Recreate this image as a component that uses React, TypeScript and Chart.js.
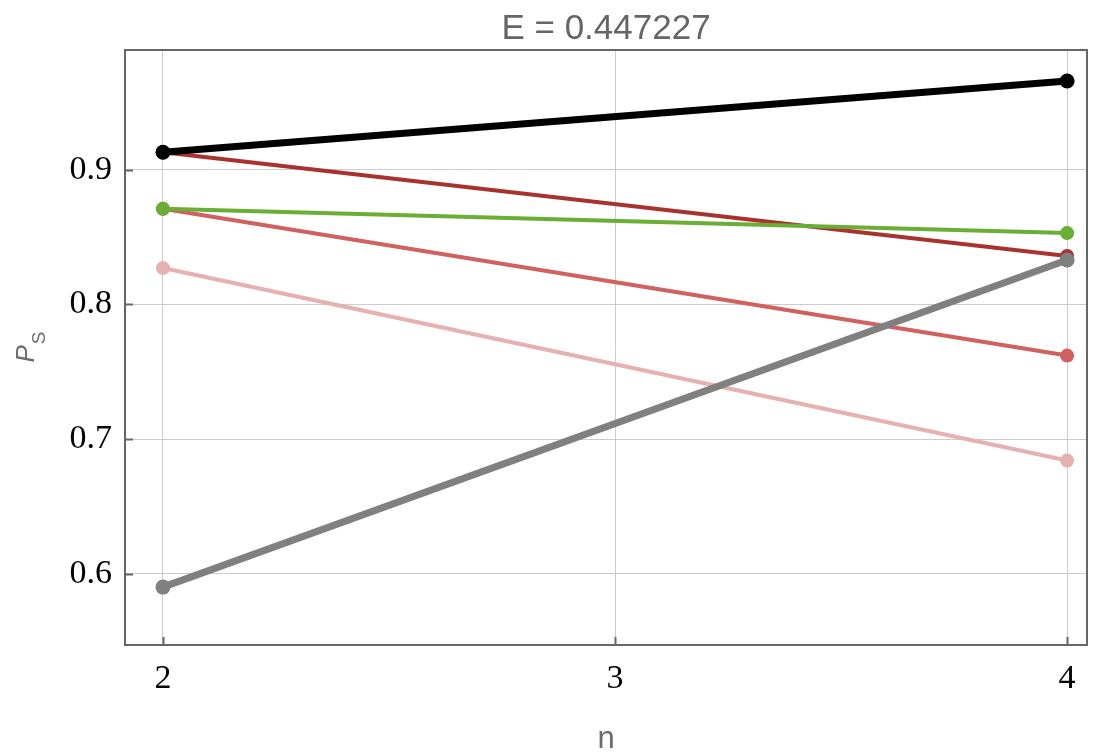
import React, { useEffect, useRef } from "react";
import { Chart, registerables } from "chart.js";

Chart.register(...registerables);

// ---- data ----
const nValues = [2, 4];
const blackSeries = [0.913, 0.966];
const darkRedSeries = [0.913, 0.836];
const greenSeries = [0.871, 0.853];
const midRedSeries = [0.871, 0.762];
const pinkSeries = [0.827, 0.684];
const graySeries = [0.59, 0.833];

const xTicks = [2, 3, 4];
const yTicks = [0.6, 0.7, 0.8, 0.9];
const titleText = "E = 0.447227";
const xLabel = "n";
const yLabelMain = "P";
const yLabelSub = "S";

const toPoints = (vals: number[]) => vals.map((v, i) => ({ x: nValues[i], y: v }));

const framePlugin = {
  id: "framePlugin",
  afterDraw(chart: any) {
    const { ctx, chartArea } = chart;
    const { left, top, right, bottom } = chartArea;
    const xs = chart.scales.x;
    const ys = chart.scales.y;
    ctx.save();
    ctx.strokeStyle = "#666666";
    ctx.lineWidth = 2;
    ctx.strokeRect(left, top, right - left, bottom - top);
    ctx.beginPath();
    yTicks.forEach((v) => {
      const p = Math.round(ys.getPixelForValue(v)) + 0.5;
      ctx.moveTo(left, p);
      ctx.lineTo(left + 8, p);
    });
    xTicks.forEach((v) => {
      const p = Math.round(xs.getPixelForValue(v)) + 0.5;
      ctx.moveTo(p, bottom);
      ctx.lineTo(p, bottom - 8);
    });
    ctx.stroke();

    const cx = (left + right) / 2;
    ctx.fillStyle = "#666666";
    ctx.textAlign = "center";
    ctx.textBaseline = "alphabetic";
    ctx.font = '35px "Liberation Sans", Arial, sans-serif';
    ctx.fillText(titleText, cx, 39);

    ctx.fillStyle = "#6c6c6c";
    ctx.font = '31px "Liberation Sans", Arial, sans-serif';
    ctx.fillText(xLabel, cx, 748);

    // y-axis label P_S
    const cy = (top + bottom) / 2;
    ctx.translate(34, cy);
    ctx.rotate(-Math.PI / 2);
    ctx.textAlign = "left";
    const mainFont = 'italic 26px "Liberation Sans", Arial, sans-serif';
    const subFont = '19px "Liberation Sans", Arial, sans-serif';
    ctx.font = mainFont;
    const wP = ctx.measureText(yLabelMain).width;
    ctx.font = subFont;
    const wS = ctx.measureText(yLabelSub).width;
    const start = -(wP + wS) / 2;
    ctx.font = mainFont;
    ctx.fillText(yLabelMain, start, 0);
    ctx.font = subFont;
    ctx.fillText(yLabelSub, start + wP + 1, 11);
    ctx.restore();
  },
};

const mk = (label: string, vals: number[], color: string, width: number, radius: number) => ({
  label,
  data: toPoints(vals),
  borderColor: color,
  backgroundColor: color,
  borderWidth: width,
  pointRadius: radius,
  pointHoverRadius: radius,
  pointBorderWidth: 0,
  pointBackgroundColor: color,
  tension: 0,
});

export default function App() {
  const ref = useRef<HTMLCanvasElement>(null);
  useEffect(() => {
    if (!ref.current) return;
    const chart = new Chart(ref.current, {
      type: "line",
      data: {
        datasets: [
          mk("black", blackSeries, "#000000", 7, 7.5),
          mk("gray", graySeries, "#808080", 7, 7.5),
          mk("green", greenSeries, "#6aae35", 4, 7),
          mk("pink", pinkSeries, "#e5b1b1", 4, 7),
          mk("midred", midRedSeries, "#d16161", 4, 7),
          mk("darkred", darkRedSeries, "#a8332e", 4, 7),
        ],
      },
      options: {
        animation: false,
        responsive: false,
        maintainAspectRatio: false,
        layout: { padding: { top: 50, right: 23, left: 0, bottom: 0 } },
        plugins: {
          legend: { display: false },
          title: { display: false },
          tooltip: { enabled: false },
        },
        scales: {
          x: {
            type: "linear",
            min: 1.916,
            max: 4.044,
            afterBuildTicks: (s: any) => {
              s.ticks = xTicks.map((v) => ({ value: v }));
            },
            afterFit: (s: any) => {
              s.height = 111;
            },
            border: { display: false },
            grid: { color: "#cccccc", lineWidth: 1, drawTicks: false },
            ticks: {
              color: "#000000",
              padding: 14,
              maxRotation: 0,
              font: { family: '"Liberation Serif", "Times New Roman", serif', size: 34 },
              callback: (v: any) => String(v),
            },
          },
          y: {
            type: "linear",
            min: 0.547,
            max: 0.989,
            afterBuildTicks: (s: any) => {
              s.ticks = yTicks.map((v) => ({ value: v }));
            },
            afterFit: (s: any) => {
              s.width = 125;
            },
            border: { display: false },
            grid: { color: "#cccccc", lineWidth: 1, drawTicks: false },
            ticks: {
              color: "#000000",
              padding: 13,
              font: { family: '"Liberation Serif", "Times New Roman", serif', size: 34 },
              callback: (v: any) => Number(v).toFixed(1),
            },
          },
        },
      },
      plugins: [framePlugin],
    });
    return () => chart.destroy();
  }, []);
  return (
    <div style={{ position: "fixed", left: 0, top: 0, width: 1110, height: 756, background: "#fff" }}>
      <canvas ref={ref} width={1110} height={756} style={{ display: "block" }} />
    </div>
  );
}
